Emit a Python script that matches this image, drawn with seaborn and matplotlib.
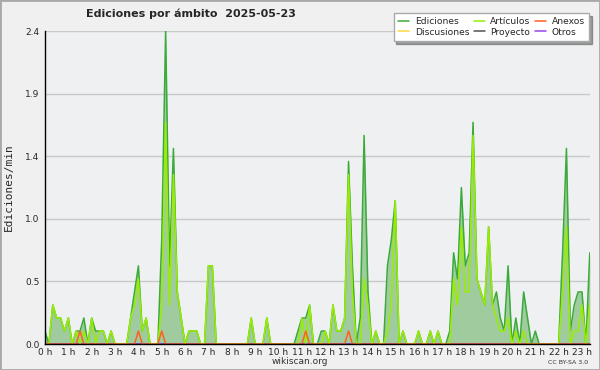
import numpy as np
import pandas as pd
import matplotlib
matplotlib.use("Agg")
import matplotlib.pyplot as plt
import seaborn as sns

# Edits per minute, one value every 10 minutes (0:00 -> 23:20)
ediciones = [
    0.1, 0, 0.3, 0.2, 0.2, 0.1, 0.2, 0, 0.1, 0.1, 0.2, 0, 0.2, 0.1, 0.1, 0.1, 0, 0.1, 0, 0, 0, 0, 0.2, 0.4,
    0.6, 0.1, 0.2, 0, 0, 0, 0.8, 2.4, 0.6, 1.5, 0.4, 0.2, 0, 0.1, 0.1, 0.1, 0, 0, 0.6, 0.6, 0, 0, 0, 0,
    0, 0, 0, 0, 0, 0.2, 0, 0, 0, 0.2, 0, 0, 0, 0, 0, 0, 0, 0.1, 0.2, 0.2, 0.3, 0, 0, 0.1,
    0.1, 0, 0.3, 0.1, 0.1, 0.2, 1.4, 0.6, 0, 0.2, 1.6, 0.4, 0, 0.1, 0, 0, 0.6, 0.8, 1.1, 0, 0.1, 0,
    0, 0, 0.1, 0, 0, 0.1, 0, 0.1, 0, 0, 0.1, 0.7, 0.5, 1.2, 0.6, 0.7, 1.7, 0.5, 0.4, 0.3, 0.9, 0.3,
    0.4, 0.2, 0.1, 0.6, 0, 0.2, 0, 0.4, 0.2, 0, 0.1, 0, 0, 0, 0, 0, 0, 0.7, 1.5, 0.1, 0.3, 0.4,
    0.4, 0, 0.7,
]
articulos = [
    0, 0, 0.3, 0.2, 0.2, 0.1, 0.2, 0, 0.1, 0, 0.1, 0, 0.2, 0, 0.1, 0.1, 0, 0.1, 0, 0, 0, 0, 0.2, 0.3,
    0.5, 0.1, 0.2, 0, 0, 0, 0.3, 1.7, 0.3, 1.3, 0.4, 0.2, 0, 0.1, 0.1, 0.1, 0, 0, 0.6, 0.6, 0, 0, 0, 0,
    0, 0, 0, 0, 0, 0.2, 0, 0, 0, 0.2, 0, 0, 0, 0, 0, 0, 0, 0, 0.2, 0, 0.3, 0, 0, 0,
    0.1, 0, 0.3, 0.1, 0.1, 0.2, 1.3, 0.4, 0, 0, 0.5, 0.3, 0, 0.1, 0, 0, 0.1, 0.3, 1.1, 0, 0.1, 0,
    0, 0, 0.1, 0, 0, 0.1, 0, 0.1, 0, 0, 0, 0.5, 0.3, 0.9, 0.4, 0.4, 1.6, 0.5, 0.4, 0.3, 0.9, 0.3,
    0.2, 0.1, 0.1, 0.2, 0, 0.1, 0, 0.1, 0, 0, 0, 0, 0, 0, 0, 0, 0, 0.4, 0.9, 0, 0.1, 0.1,
    0.3, 0, 0.3,
]
anexos = [0.0] * len(ediciones)
for i in [9, 24, 30, 67, 78]:
    anexos[i] = 0.1
discusiones = [0.0] * len(ediciones)
proyecto = [0.0] * len(ediciones)
otros = [0.0] * len(ediciones)

hours = np.arange(len(ediciones)) / 6
hour_labels = [f"{h} h" for h in range(24)]
y_ticks = [0, 0.48, 0.96, 1.44, 1.92, 2.4]
y_labels = ["0.0", "0.5", "1.0", "1.4", "1.9", "2.4"]

df = pd.DataFrame({"hora": hours, "Ediciones": ediciones, "Artículos": articulos,
                   "Anexos": anexos, "Discusiones": discusiones,
                   "Proyecto": proyecto, "Otros": otros})

sns.set_style("white")
plt.rcParams["font.family"] = ["DejaVu Sans"]

fig = plt.figure(figsize=(6, 3.7), dpi=100, facecolor="#f0f0f0")
fig.patches.append(plt.Rectangle((0, 0), 1, 1, transform=fig.transFigure, fill=False,
                                 edgecolor="#a8a8a8", lw=2))
ax = fig.add_axes([0.075, 0.070, 0.908, 0.846], facecolor="#eef0f2")

ax.fill_between(df["hora"], df["Ediciones"], color="#9fcb9f", lw=0, zorder=1)

series = [("Discusiones", "#ffd740"), ("Proyecto", "#555555"), ("Otros", "#9944ee"),
          ("Ediciones", "#3aaa3a"), ("Artículos", "#99ee00"), ("Anexos", "#ff6020")]
for name, col in series:
    sns.lineplot(data=df, x="hora", y=name, color=col, lw=1.1, label=name, ax=ax,
                 zorder=2)

ax.set_xlim(0, hours[-1])
ax.set_ylim(0, 2.4)
ax.set_xticks(range(24))
ax.set_xticklabels(hour_labels)
ax.set_xticks(np.arange(0, hours[-1] + 0.01, 1 / 6), minor=True)
ax.set_yticks(y_ticks)
ax.set_yticklabels(y_labels)
ax.set_yticks(np.arange(0, 2.41, 0.12), minor=True)
ax.tick_params(axis="both", which="both", direction="out", length=3, width=1,
               color="black", labelsize=6.5, pad=1)
ax.tick_params(axis="x", which="both", length=2.5, pad=0.5)
ax.yaxis.grid(True, color="#c8c8c8", lw=1)
ax.set_axisbelow(True)
for s in ["top", "right"]:
    ax.spines[s].set_visible(False)
for s in ["left", "bottom"]:
    ax.spines[s].set_color("black")
    ax.spines[s].set_linewidth(1)
ax.set_xlabel("")
ax.set_ylabel("Ediciones/min", family="DejaVu Sans Mono", fontsize=8, labelpad=8)

handles, labels = ax.get_legend_handles_labels()
order = ["Ediciones", "Discusiones", "Artículos", "Proyecto", "Anexos", "Otros"]
hmap = dict(zip(labels, handles))
ax.get_legend().remove()
fig.legend([hmap[o] for o in order], order, ncol=3, loc="upper right",
           bbox_to_anchor=(0.99, 0.978), fontsize=6.6, frameon=True, shadow=True,
           fancybox=False, edgecolor="#aaaaaa", facecolor="white", framealpha=1,
           handlelength=1.2, handletextpad=0.6, columnspacing=0.5, labelspacing=0.15,
           borderpad=0.5)

fig.text(0.143, 0.962, "Ediciones por ámbito  2025-05-23", fontsize=8,
         fontweight="bold", va="center")
fig.text(0.5, 0.022, "wikiscan.org", fontsize=6.5, ha="center", va="center", color="#333333")
fig.text(0.98, 0.019, "CC BY-SA 3.0", fontsize=4.5, ha="right", va="center", color="#333333")

fig.savefig("out.png", dpi=100, facecolor=fig.get_facecolor())
